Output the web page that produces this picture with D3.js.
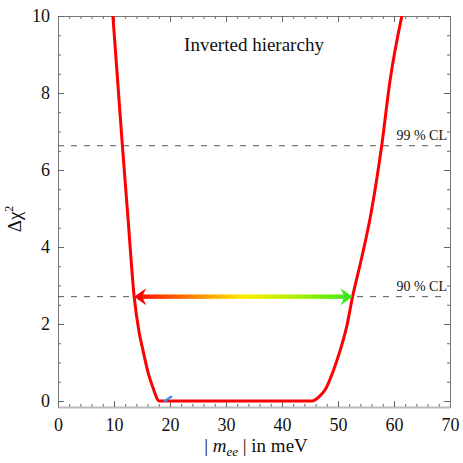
<!DOCTYPE html>
<html>
<head>
<meta charset="utf-8">
<script src="https://cdn.jsdelivr.net/npm/d3@7"></script>
<style>
  body { margin: 0; background: #fff; }
  text { font-family: "Liberation Serif", "Times New Roman", serif; fill: #111; }
</style>
</head>
<body>
<div id="chart"></div>
<script>
// chi^2 profile
const mee = [9.8, 10.6, 11.5, 12.5, 13.6, 14.5, 15.2, 16.1, 16.9, 18.1, 25, 35, 45.4, 45.9, 46.7, 47.7, 49.2, 50.4, 51.55, 52.6, 54.2, 55.8, 57.8, 59.3, 61.4];
const dchi2 = [10, 8.42, 6.63, 4.75, 2.71, 1.77, 1.3, 0.73, 0.37, 0, 0, 0, 0, 0.03, 0.12, 0.29, 0.8, 1.32, 1.93, 2.71, 3.7, 4.8, 6.63, 8.33, 10];

const blueX = [19.1, 20.2];
const blueY = [0, 0.11];

const clLevels = [2.71, 6.63];
const clLabels = ['90 % CL', '99 % CL'];

const arrowRange = [13.6, 52.6];

const xTicks = [0, 10, 20, 30, 40, 50, 60, 70];
const yTicks = [0, 2, 4, 6, 8, 10];

const w = 463;
const h = 463;
const padL = 58, padR = 450, padT = 16, padB = 407;

const xScale = d3.scaleLinear().domain([0, 70]).range([padL, padR]);
const yScale = d3.scaleLinear().domain([-0.156, 10]).range([padB, padT]);

const svg = d3.select('#chart')
  .append('svg')
  .attr('width', w)
  .attr('height', h);

svg.append('clipPath').attr('id', 'clip')
  .append('rect')
  .attr('x', padL).attr('y', padT)
  .attr('width', padR - padL).attr('height', padB - padT);

// minor ticks
const xMinor = d3.range(0, 71, 2);
const yMinor = d3.range(0, 10.01, 0.5);

function styleAxis(g) {
  g.selectAll('.tick line').attr('stroke', '#666');
  g.select('.domain').attr('stroke', '#777');
}

svg.append('g')
  .attr('transform', 'translate(0,' + padB + ')')
  .call(d3.axisBottom(xScale).tickValues(xMinor).tickSize(-3).tickSizeOuter(0).tickFormat(''))
  .call(styleAxis);
svg.append('g')
  .attr('transform', 'translate(0,' + padT + ')')
  .call(d3.axisTop(xScale).tickValues(xMinor).tickSize(-3).tickSizeOuter(0).tickFormat(''))
  .call(styleAxis);
svg.append('g')
  .attr('transform', 'translate(' + padL + ',0)')
  .call(d3.axisLeft(yScale).tickValues(yMinor).tickSize(-3).tickSizeOuter(0).tickFormat(''))
  .call(styleAxis);
svg.append('g')
  .attr('transform', 'translate(' + padR + ',0)')
  .call(d3.axisRight(yScale).tickValues(yMinor).tickSize(-3).tickSizeOuter(0).tickFormat(''))
  .call(styleAxis);

// major ticks + labels
const xAxis = svg.append('g')
  .attr('transform', 'translate(0,' + padB + ')')
  .call(d3.axisBottom(xScale).tickValues(xTicks).tickSize(-6).tickSizeOuter(0).tickPadding(11).tickFormat(d3.format('d')))
  .call(styleAxis);
xAxis.select('.domain').attr('stroke', '#bbb').attr('stroke-width', 2);

svg.append('g')
  .attr('transform', 'translate(0,' + padT + ')')
  .call(d3.axisTop(xScale).tickValues(xTicks).tickSize(-6).tickSizeOuter(0).tickFormat(''))
  .call(styleAxis);

svg.append('g')
  .attr('transform', 'translate(' + padL + ',0)')
  .call(d3.axisLeft(yScale).tickValues(yTicks).tickSize(-6).tickSizeOuter(0).tickPadding(8).tickFormat(d3.format('d')))
  .call(styleAxis);

svg.append('g')
  .attr('transform', 'translate(' + padR + ',0)')
  .call(d3.axisRight(yScale).tickValues(yTicks).tickSize(-6).tickSizeOuter(0).tickFormat(''))
  .call(styleAxis);

svg.selectAll('.tick text')
  .style('font-family', '"Liberation Serif", "Times New Roman", serif')
  .style('font-size', '18px')
  .attr('fill', '#111');

// confidence level lines
clLevels.forEach((v, i) => {
  svg.append('line')
    .attr('x1', padL).attr('x2', padR - 8)
    .attr('y1', yScale(v)).attr('y2', yScale(v))
    .attr('stroke', '#555')
    .attr('stroke-width', 1)
    .attr('stroke-dasharray', '6,7');
  svg.append('text')
    .attr('x', 447)
    .attr('y', yScale(v) - 6)
    .attr('text-anchor', 'end')
    .style('font-size', '14px')
    .text(clLabels[i]);
});

// curve
const pts = mee.map((d, i) => [d, dchi2[i]]);
const line = d3.line()
  .x(d => xScale(d[0]))
  .y(d => yScale(d[1]))
  .curve(d3.curveMonotoneX);

svg.append('path')
  .datum(pts)
  .attr('clip-path', 'url(#clip)')
  .attr('d', line)
  .attr('fill', 'none')
  .attr('stroke', '#ff0000')
  .attr('stroke-width', 3)
  .attr('stroke-linejoin', 'round');

svg.append('line')
  .attr('x1', xScale(blueX[0])).attr('y1', yScale(blueY[0]))
  .attr('x2', xScale(blueX[1])).attr('y2', yScale(blueY[1]))
  .attr('stroke', '#3d8fe8')
  .attr('stroke-width', 2.5)
  .attr('stroke-linecap', 'round');

// gradient arrow
const ax1 = xScale(arrowRange[0]);
const ax2 = xScale(arrowRange[1]);
const ay = yScale(clLevels[0]);

const grad = svg.append('defs').append('linearGradient')
  .attr('id', 'rg')
  .attr('gradientUnits', 'userSpaceOnUse')
  .attr('x1', ax1).attr('x2', ax2).attr('y1', 0).attr('y2', 0);
[[0, '#ff0000'], [0.25, '#ff7a00'], [0.5, '#ffee00'], [0.75, '#a8f000'], [1, '#3ae81a']].forEach(s => {
  grad.append('stop').attr('offset', s[0]).attr('stop-color', s[1]);
});

svg.append('rect')
  .attr('x', ax1 + 8).attr('y', ay - 2.2)
  .attr('width', ax2 - ax1 - 16).attr('height', 4.4)
  .attr('fill', 'url(#rg)');

svg.append('path')
  .attr('d', 'M' + ax1 + ',' + ay + 'L' + (ax1 + 12) + ',' + (ay - 8.5) + 'L' + (ax1 + 8) + ',' + ay + 'L' + (ax1 + 12) + ',' + (ay + 8.5) + 'Z')
  .attr('fill', '#ff0000');
svg.append('path')
  .attr('d', 'M' + ax2 + ',' + ay + 'L' + (ax2 - 12) + ',' + (ay - 8.5) + 'L' + (ax2 - 8) + ',' + ay + 'L' + (ax2 - 12) + ',' + (ay + 8.5) + 'Z')
  .attr('fill', '#3ae81a');

// texts
svg.append('text')
  .attr('x', 254).attr('y', 51)
  .attr('text-anchor', 'middle')
  .style('font-size', '19px')
  .text('Inverted hierarchy');

const xt = svg.append('text')
  .attr('x', 256).attr('y', 452)
  .attr('text-anchor', 'middle')
  .style('font-size', '19px');
xt.append('tspan').text('| ');
xt.append('tspan').style('font-style', 'italic').text('m');
xt.append('tspan').style('font-style', 'italic').style('font-size', '13px').attr('dy', 4).text('ee');
xt.append('tspan').attr('dy', -4).text(' |  in meV');

const yt = svg.append('text')
  .attr('transform', 'translate(21,219) rotate(-90)')
  .attr('text-anchor', 'middle')
  .style('font-size', '19px');
yt.append('tspan').text('Δχ');
yt.append('tspan').style('font-size', '12px').attr('dy', -8).text('2');
</script>
</body>
</html>
